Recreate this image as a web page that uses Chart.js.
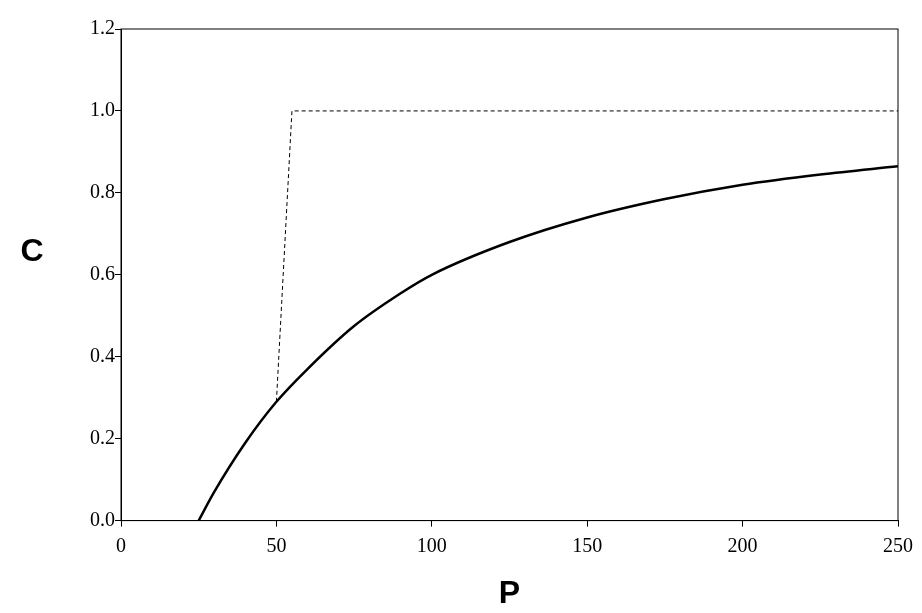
<!DOCTYPE html>
<html>
<head>
<meta charset="utf-8">
<script src="https://cdn.jsdelivr.net/npm/chart.js@4/dist/chart.umd.min.js"></script>
<style>
  html, body { margin: 0; padding: 0; background: #fff; }
  #wrap { width: 922px; height: 613px; }
</style>
</head>
<body>
<div id="wrap"><canvas id="c"></canvas></div>
<script>
// Data
const curveP = [25, 30, 40, 50, 60, 75, 90, 100, 125, 150, 175, 200, 225, 250];
const curveC = [0, 0.07, 0.19, 0.29, 0.37, 0.475, 0.555, 0.6, 0.68, 0.74, 0.785, 0.82, 0.845, 0.865];
const stepP = [50, 55, 250];
const stepC = [0.29, 1.0, 1.0];
const xTicks = [0, 50, 100, 150, 200, 250];
const yTicks = [0, 0.2, 0.4, 0.6, 0.8, 1.0, 1.2];

const toPoints = (xs, ys) => xs.map((x, i) => ({ x: x, y: ys[i] }));

// Box around the plot area plus the upright "C" title
const frame = {
    id: 'frame',
    afterDraw(chart) {
        const a = chart.chartArea;
        const ctx = chart.ctx;
        ctx.save();
        ctx.strokeStyle = '#000';
        ctx.lineWidth = 1;
        ctx.strokeRect(a.left, a.top, a.right - a.left, a.bottom - a.top);
        ctx.fillStyle = '#000';
        ctx.font = 'bold 32px "Liberation Sans"';
        ctx.textAlign = 'center';
        ctx.textBaseline = 'middle';
        ctx.fillText('C', 32, 252);
        ctx.restore();
    }
};

new Chart(document.getElementById('c'), {
    type: 'scatter',
    data: {
        datasets: [
            {
                data: toPoints(curveP, curveC),
                showLine: true,
                borderColor: '#000',
                borderWidth: 2.5,
                pointRadius: 0,
                cubicInterpolationMode: 'monotone'
            },
            {
                data: toPoints(stepP, stepC),
                showLine: true,
                borderColor: '#000',
                borderWidth: 1,
                borderDash: [4, 3],
                pointRadius: 0
            }
        ]
    },
    options: {
        responsive: true,
        maintainAspectRatio: false,
        animation: false,
        layout: { padding: { left: 90, right: 24, top: 29, bottom: 0 } },
        plugins: { legend: { display: false }, tooltip: { enabled: false } },
        scales: {
            x: {
                type: 'linear', min: 0, max: 250,
                afterBuildTicks: (s) => { s.ticks = xTicks.map(v => ({ value: v })); },
                grid: { drawOnChartArea: false, tickLength: 6, color: '#000' },
                border: { color: '#000', width: 1 },
                ticks: { color: '#000', font: { family: 'Liberation Serif', size: 20 }, padding: 8, maxRotation: 0 },
                title: { display: true, text: 'P', color: '#000', font: { family: 'Liberation Sans', size: 32, weight: 'bold' }, padding: { top: 8, bottom: 0 } }
            },
            y: {
                type: 'linear', min: 0, max: 1.2,
                afterBuildTicks: (s) => { s.ticks = yTicks.map(v => ({ value: v })); },
                grid: { drawOnChartArea: false, tickLength: 6, color: '#000' },
                border: { color: '#000', width: 1 },
                ticks: { color: '#000', font: { family: 'Liberation Serif', size: 20 }, padding: 0, callback: v => v.toFixed(1) }
            }
        }
    },
    plugins: [frame]
});
</script>
</body>
</html>
